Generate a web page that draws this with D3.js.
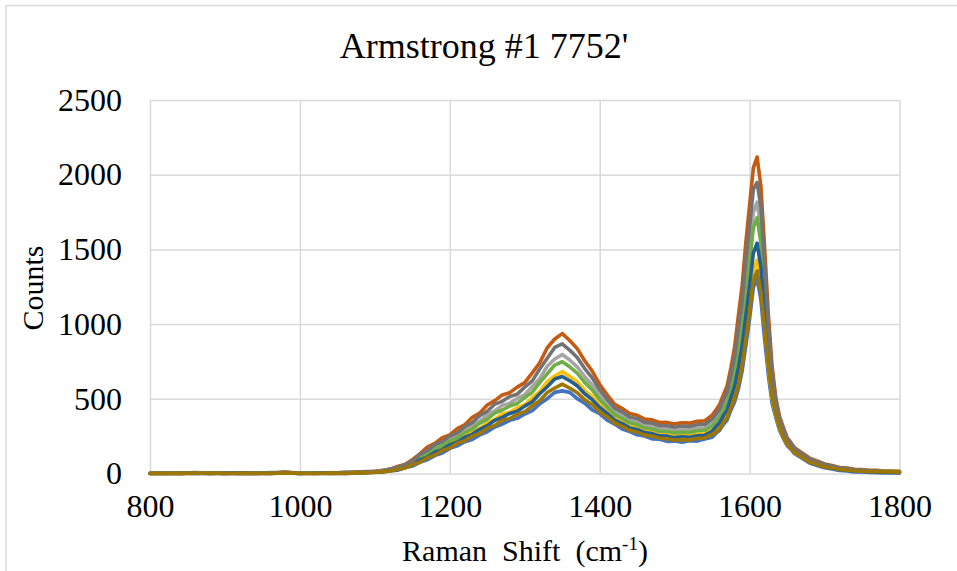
<!DOCTYPE html>
<html>
<head>
<meta charset="utf-8">
<script src="https://cdn.jsdelivr.net/npm/d3@7"></script>
<style>
  html, body { margin: 0; padding: 0; background: #fff; }
  svg { display: block; }
</style>
</head>
<body>
<svg id="chart" width="957" height="571"></svg>
<script>
// Raman shift sampling (cm^-1)
const shift = [800,820,840,860,880,900,920,940,960,980,1000,1020,1040,1060,1080,1100,
  1110,1120,1130,1140,1150,1160,1170,1180,1190,1200,1210,1220,1230,1240,1250,1260,1270,1280,1290,1300,
  1310,1320,1330,1340,1350,1360,1370,1380,1390,1400,1410,1420,1430,1440,1450,1460,1470,1480,1490,1500,
  1510,1520,1530,1540,1550,
  1555,1560,1565,1570,1575,1580,1585,1590,1595,1600,1605,1610,1615,1620,1625,1630,1635,1640,1645,1650,1655,1660,
  1670,1680,1690,1700,1710,1720,1730,1740,1750,1760,1770,1780,1790,1800];

// Counts for each spectrum
const spec1 = [2,0,4,1,0,3,1,0,2,8,1,3,0,2,6,8,
  10,17,22,38,50,75,92,120,137,168,185,213,228,258,279,311,331,356,369,398,421,466,501,543,553,543,501,471,426,401,357,331,297,281,259,251,232,229,215,217,209,219,217,231,242,
  268,289,328,358,424,478,565,686,855,1035,1245,1305,1165,900,660,470,374,288,236,186,163,132,
  102,70,54,38,31,20,17,11,10,7,6,4,5,3];
const spec2 = [0,3,1,6,2,0,4,1,3,9,2,0,3,6,11,15,
  22,28,47,60,92,131,176,201,240,258,300,326,376,405,458,488,526,541,578,608,674,741,842,900,936,890,836,755,686,596,526,463,435,401,390,364,359,341,342,332,340,337,349,352,390,
  424,461,526,586,706,846,1056,1255,1546,1796,2046,2118,1926,1514,1066,716,506,381,309,241,208,172,
  137,103,84,64,54,40,36,28,27,21,21,17,17,14];
const spec3 = [3,1,2,0,4,2,0,3,1,5,2,4,1,3,7,12,
  18,23,39,50,77,108,148,170,204,222,259,283,323,349,393,420,456,471,502,528,582,636,718,766,797,760,714,648,592,521,465,412,386,355,342,321,314,298,297,287,293,291,302,305,336,
  366,398,452,503,600,710,873,1045,1289,1515,1748,1816,1643,1288,914,625,455,348,281,222,190,158,
  124,91,73,54,45,34,29,22,21,16,16,12,13,10];
const spec4 = [1,2,0,4,1,3,2,5,0,2,4,1,6,3,5,10,
  15,18,33,42,63,89,124,143,174,192,226,245,280,302,340,363,398,410,440,460,507,549,616,653,682,650,614,557,515,459,416,369,346,316,305,283,277,261,260,250,256,253,264,266,294,
  291,315,358,392,466,533,638,772,958,1150,1364,1428,1278,993,720,508,394,302,246,195,170,139,
  110,78,62,46,40,29,28,22,21,17,19,15,16,12];
const spec5 = [2,0,3,2,1,4,0,2,6,3,1,5,2,4,6,11,
  14,25,32,52,68,107,131,166,185,218,239,274,298,337,364,404,425,452,469,508,544,608,667,726,748,714,672,610,559,495,444,394,368,339,327,305,298,283,281,272,277,275,286,289,318,
  346,375,427,473,564,662,809,971,1199,1416,1644,1712,1544,1208,862,594,439,335,271,215,185,153,
  120,86,69,51,43,31,28,20,22,14,16,11,13,9];
const spec6 = [0,2,1,3,0,1,4,2,1,5,0,2,3,1,4,9,
  11,21,26,45,56,90,110,143,160,192,211,243,262,296,320,356,376,402,417,451,480,534,581,632,649,621,587,534,494,442,402,358,334,305,295,274,267,252,250,240,245,243,253,255,282,
  313,339,386,425,505,585,706,851,1054,1256,1476,1542,1384,1079,776,542,411,316,256,203,175,145,
  110,77,60,44,36,26,22,16,15,11,11,8,9,6];
const spec7 = [1,4,0,3,5,1,2,0,4,6,3,1,2,8,9,13,
  16,30,39,60,78,128,154,193,214,250,272,313,341,387,417,464,483,515,531,578,620,699,771,844,868,826,777,702,640,559,496,438,411,378,367,342,337,320,320,309,318,314,327,328,364,
  396,430,490,545,655,780,967,1152,1421,1658,1901,1948,1788,1404,992,671,482,364,296,231,200,165,
  131,97,79,59,50,36,33,25,24,18,18,15,15,12];
const spec8 = [1,0,2,1,3,0,2,1,0,3,1,0,2,1,4,7,
  12,15,28,36,58,75,106,124,154,171,203,219,250,268,303,322,357,368,396,413,453,487,542,572,598,572,541,493,460,412,379,338,316,288,277,257,250,235,233,223,227,225,235,238,262,
  277,299,341,372,441,500,593,720,895,1082,1292,1356,1215,980,722,518,397,308,240,196,166,140,
  108,76,60,43,37,26,23,17,16,12,13,10,11,8];

const spectra = [spec1, spec2, spec3, spec4, spec5, spec6, spec7, spec8];
const colors = ["#4472C4", "#C55A11", "#A5A5A5", "#FFC000", "#70AD47", "#255E91", "#737373", "#9E7700"];

const xTicks = [800, 1000, 1200, 1400, 1600, 1800];
const yTicks = [0, 500, 1000, 1500, 2000, 2500];

const serif = "'Liberation Serif', 'Times New Roman', serif";
const svg = d3.select("#chart");
const W = 957, H = 571;
const plot = { left: 150, right: 899.5, top: 100, bottom: 473.5 };

const x = d3.scaleLinear().domain([800, 1800]).range([plot.left, plot.right]);
const y = d3.scaleLinear().domain([0, 2500]).range([plot.bottom, plot.top]);

// chart frame edges
svg.append("line").attr("x1", 6).attr("x2", W).attr("y1", 5.5).attr("y2", 5.5)
  .attr("stroke", "#d9d9d9").attr("stroke-width", 1.5);
svg.append("line").attr("x1", 6).attr("x2", 6).attr("y1", 5.5).attr("y2", H)
  .attr("stroke", "#d9d9d9").attr("stroke-width", 1.5);

// y axis with horizontal gridlines
const gy = svg.append("g")
  .attr("transform", `translate(${plot.left},0)`)
  .call(d3.axisLeft(y).tickValues(yTicks).tickFormat(d3.format("d"))
    .tickSizeInner(-(plot.right - plot.left)).tickSizeOuter(0).tickPadding(28));
gy.attr("font-family", serif).attr("font-size", 32);
gy.select(".domain").remove();
gy.selectAll(".tick line").attr("stroke", "#d9d9d9").attr("stroke-width", 1.5);
gy.selectAll(".tick text").attr("fill", "#000");

// x axis with vertical gridlines
const gx = svg.append("g")
  .attr("transform", `translate(0,${plot.bottom})`)
  .call(d3.axisBottom(x).tickValues(xTicks).tickFormat(d3.format("d"))
    .tickSizeInner(-(plot.bottom - plot.top)).tickSizeOuter(0).tickPadding(21));
gx.attr("font-family", serif).attr("font-size", 32);
gx.select(".domain").remove();
gx.selectAll(".tick line").attr("stroke", "#d9d9d9").attr("stroke-width", 1.5);
gx.selectAll(".tick text").attr("fill", "#000");

// spectra
const line = d3.line()
  .x((d, i) => x(shift[i]))
  .y(d => y(d));

spectra.forEach((s, k) => {
  svg.append("path")
    .datum(s)
    .attr("d", line)
    .attr("fill", "none")
    .attr("stroke", colors[k])
    .attr("stroke-width", 3.6)
    .attr("stroke-linejoin", "round")
    .attr("stroke-linecap", "round");
});

// title
svg.append("text")
  .attr("x", 484).attr("y", 58)
  .attr("text-anchor", "middle")
  .attr("font-family", serif)
  .attr("font-size", 36)
  .text("Armstrong #1 7752'");

// axis titles
svg.append("text")
  .attr("transform", "translate(43,288) rotate(-90)")
  .attr("text-anchor", "middle")
  .attr("font-family", serif)
  .attr("font-size", 30)
  .text("Counts");

const xt = svg.append("text")
  .attr("x", 525).attr("y", 561)
  .attr("text-anchor", "middle")
  .attr("font-family", serif)
  .attr("font-size", 30)
  .attr("xml:space", "preserve");
xt.append("tspan").text("Raman  Shift  (cm");
xt.append("tspan").attr("dy", -11).attr("font-size", 19).text("-1");
xt.append("tspan").attr("dy", 11).text(")");
</script>
</body>
</html>
